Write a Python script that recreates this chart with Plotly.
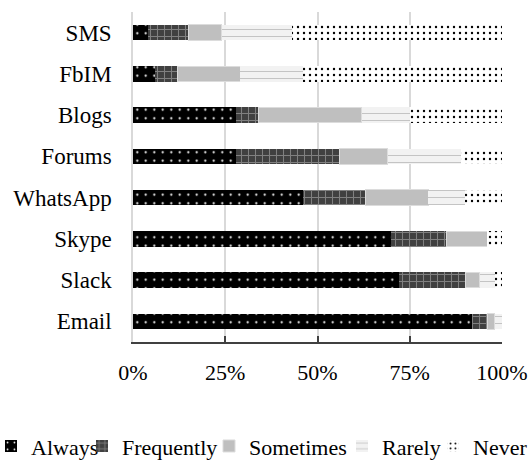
import plotly.graph_objects as go

# ---- data (percent of respondents) ----
categories = ["SMS", "FbIM", "Blogs", "Forums", "WhatsApp", "Skype", "Slack", "Email"]
always     = [4, 6, 28, 28, 46, 70, 72, 92]
frequently = [11, 6, 6, 28, 17, 15, 18, 4]
sometimes  = [9, 17, 28, 13, 17, 11, 4, 2]
rarely     = [19, 17, 13, 20, 10, 0, 4, 2]
never      = [57, 54, 25, 11, 10, 4, 2, 0]

x_ticks = [0, 25, 50, 75, 100]
x_ticktext = ["0%", "25%", "50%", "75%", "100%"]

FONT = "Liberation Serif, Times New Roman, serif"

series = [
    dict(name="Always", values=always, legend="legend", lw=46,
         pattern=dict(shape=".", bgcolor="#000000", fgcolor="#ffffff",
                      size=8.5, solidity=0.05, fillmode="replace"),
         line=dict(width=0)),
    dict(name="Frequently", values=frequently, legend="legend", lw=82,
         pattern=dict(shape="+", bgcolor="#404040", fgcolor="#808080",
                      size=7, solidity=0.27, fillmode="replace"),
         line=dict(width=0)),
    dict(name="Sometimes", values=sometimes, legend="legend", lw=None,
         pattern=dict(shape="", bgcolor="#bfbfbf", fgcolor="#bfbfbf"),
         line=dict(width=1, color="#dcdcdc")),
    dict(name="Rarely", values=rarely, legend="legend2", lw=46,
         pattern=dict(shape="-", bgcolor="#f2f2f2", fgcolor="#c4c4c4",
                      size=7, solidity=0.15, fillmode="replace"),
         line=dict(width=0)),
    dict(name="Never", values=never, legend="legend2", lw=None,
         pattern=dict(shape=".", bgcolor="#ffffff", fgcolor="#000000",
                      size=6, solidity=0.12, fillmode="replace"),
         line=dict(width=0)),
]

fig = go.Figure()
for s in series:
    kw = {}
    if s["lw"]:
        kw["legendwidth"] = s["lw"]
    fig.add_trace(go.Bar(
        y=categories, x=s["values"], name=s["name"], orientation="h",
        marker=dict(color=s["pattern"]["bgcolor"], pattern=s["pattern"], line=s["line"]),
        legend=s["legend"], hoverinfo="skip", **kw,
    ))

legend_common = dict(orientation="h", xanchor="left", yanchor="top", y=-0.252,
                     font=dict(family=FONT, size=22, color="#000000"),
                     bgcolor="rgba(0,0,0,0)", borderwidth=0, traceorder="normal")

fig.update_layout(
    width=530, height=461,
    margin=dict(l=133, r=28, t=12, b=119, autoexpand=False),
    paper_bgcolor="#ffffff", plot_bgcolor="#ffffff",
    barmode="stack", bargap=0.63,
    font=dict(family=FONT, size=22, color="#000000"),
    showlegend=True,
    legend=dict(x=(-9 - 133) / 369, **legend_common),
    legend2=dict(x=(342 - 133) / 369, **legend_common),
    xaxis=dict(range=[0, 100], tickvals=x_ticks, ticktext=x_ticktext,
               showgrid=True, gridcolor="#d9d9d9", gridwidth=1.5,
               zeroline=False, showline=True, linecolor="#404040", linewidth=1.5,
               ticks="inside", ticklen=6, tickwidth=1.5, tickcolor="#404040",
               ticklabelstandoff=10, tickfont=dict(size=22), fixedrange=True),
    yaxis=dict(autorange="reversed", showgrid=False, zeroline=False,
               showline=True, linecolor="#d9d9d9", linewidth=1.5,
               ticks="", ticklabelstandoff=15, tickfont=dict(size=23), fixedrange=True),
)

fig.write_html("out.html")
